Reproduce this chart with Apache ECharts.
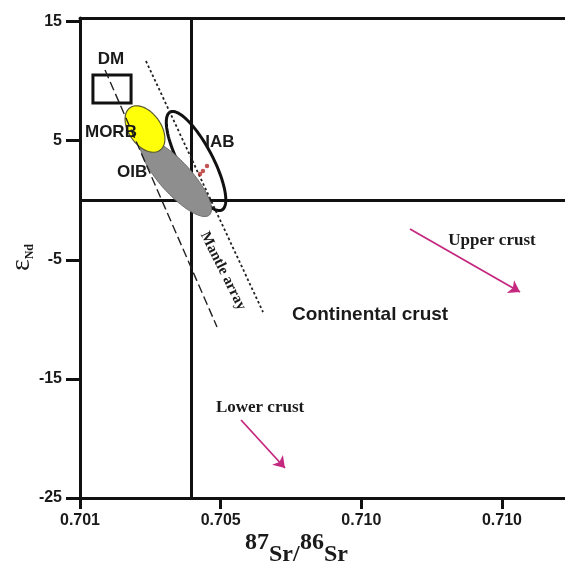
<!DOCTYPE html>
<html>
<head>
<meta charset="utf-8">
<script src="https://cdn.jsdelivr.net/npm/echarts@6/dist/echarts.min.js"></script>
<style>html,body{margin:0;padding:0;background:#fff}#c{width:565px;height:563px}</style>
</head>
<body>
<div id="c"></div>
<script>
// ---- data (x in tick-position units: 0 = first tick, 1 = second ...) ----
const xTickLabels = ['0.701', '0.705', '0.710', '0.710'];
const xTickPositions = [0, 1, 2, 3];
const yTicks = [-25, -15, -5, 5, 15];
const bulkEarthX = 0.789;
const bulkEarthY = 0;
const dmBox = [[0.092, 10.51], [0.363, 8.16]];
// ellipse: [centerX, centerY, majorTipX, majorTipY, minor/major ratio]
const iabField = [0.825, 3.29, 1.009, -0.82, 0.30];
const oibField = [0.682, 1.87, 0.920, -1.24, 0.32];
const morbField = [0.462, 5.98, 0.568, 4.19, 0.62];
const mantleArrayLeft = [[0.178, 10.93], [0.974, -10.64]];
const mantleArrayRight = [[0.469, 11.69], [1.301, -9.39]];
const samples = [[0.903, 2.87], [0.874, 2.45], [0.853, 2.20]];
const upperCrustArrow = [[2.346, -2.42], [3.128, -7.71]];
const lowerCrustArrow = [[1.145, -18.45], [1.457, -22.48]];
const labelTexts = ['DM', 'MORB', 'OIB', 'IAB', 'Continental crust', 'Upper crust', 'Lower crust', 'Mantle array'];
const labelX = [0.220, 0.220, 0.370, 0.995, 2.062, 2.929, 1.280, 1.017];
const labelY = [11.86, 5.73, 2.37, 4.85, -9.64, -3.42, -17.45, -5.94];

// ---- styles ----
const sansBold = {fontFamily: 'Liberation Sans, Arial, sans-serif', fontWeight: 'bold', fill: '#1a1a1a'};
const serifBold = {fontFamily: 'Liberation Serif, Times New Roman, serif', fontWeight: 'bold', fill: '#1a1a1a'};
const labelStyles = [
  Object.assign({fontSize: 17}, sansBold),
  Object.assign({fontSize: 17}, sansBold),
  Object.assign({fontSize: 17}, sansBold),
  Object.assign({fontSize: 17}, sansBold),
  Object.assign({fontSize: 19}, sansBold),
  Object.assign({fontSize: 17}, serifBold),
  Object.assign({fontSize: 17}, serifBold),
  Object.assign({fontSize: 15}, serifBold)
];
const labelRot = [0, 0, 0, 0, 0, 0, 0, -1.107];

function ellipseSeries(field, fill, stroke, lw, z) {
  return {
    type: 'custom', coordinateSystem: 'cartesian2d', z: z, silent: true,
    data: [[field[0], field[1]]],
    renderItem: function (params, api) {
      const c = api.coord([field[0], field[1]]);
      const t = api.coord([field[2], field[3]]);
      const a = Math.hypot(t[0] - c[0], t[1] - c[1]);
      const ang = Math.atan2(t[1] - c[1], t[0] - c[0]);
      const b = a * field[4];
      const pts = [];
      for (let i = 0; i < 120; i++) {
        const th = i / 120 * Math.PI * 2;
        const ex = a * Math.cos(th), ey = b * Math.sin(th);
        pts.push([c[0] + ex * Math.cos(ang) - ey * Math.sin(ang), c[1] + ex * Math.sin(ang) + ey * Math.cos(ang)]);
      }
      return {type: 'polygon', shape: {points: pts}, style: {fill: fill, stroke: stroke, lineWidth: lw}};
    }
  };
}

function lineSeries(pts, color, width, dash, z) {
  return {
    type: 'line', data: pts, z: z, silent: true, animation: false, symbol: 'none',
    lineStyle: {color: color, width: width, type: dash || 'solid'}
  };
}

function arrowSeries(pts, color, z) {
  return {
    type: 'lines', coordinateSystem: 'cartesian2d', z: z, silent: true,
    symbol: ['none', 'arrow'], symbolSize: [0, 11],
    lineStyle: {color: color, width: 1.8, opacity: 1},
    data: [{coords: pts}]
  };
}

const chart = echarts.init(document.getElementById('c'), null, {renderer: 'canvas'});

const option = {
  animation: false,
  backgroundColor: '#fff',
  grid: {left: 80, right: 0, top: 18, bottom: 65, containLabel: false},
  xAxis: [{
    type: 'value', min: 0, max: 3.448, position: 'bottom',
    axisLine: {show: true, onZero: false, lineStyle: {color: '#111', width: 3}},
    axisTick: {show: true, customValues: xTickPositions, length: 11, lineStyle: {color: '#111', width: 3}},
    axisLabel: {customValues: xTickPositions, margin: 15, fontSize: 16, fontWeight: 'bold', color: '#1a1a1a',
      fontFamily: 'Liberation Sans, Arial, sans-serif',
      formatter: function (v) { return xTickLabels[Math.round(v)]; }},
    splitLine: {show: false}
  }, {
    type: 'value', min: 0, max: 3.448, position: 'top',
    axisLine: {show: true, onZero: false, lineStyle: {color: '#111', width: 3}},
    axisTick: {show: false}, axisLabel: {show: false}, splitLine: {show: false}
  }],
  yAxis: {
    type: 'value', min: -25, max: 15.3,
    axisLine: {show: true, onZero: false, lineStyle: {color: '#111', width: 3}},
    axisTick: {show: true, customValues: yTicks, length: 14, lineStyle: {color: '#111', width: 3}},
    axisLabel: {customValues: yTicks, margin: 18, fontSize: 16, fontWeight: 'bold', color: '#1a1a1a',
      fontFamily: 'Liberation Sans, Arial, sans-serif'},
    splitLine: {show: false}
  },
  graphic: [
    {type: 'text', left: 8, top: 244, rotation: Math.PI / 2, z: 10,
      style: {text: '{e|ε}{n|Nd}', rich: {
        e: {fontSize: 28, fontFamily: 'Liberation Serif, serif', fill: '#1a1a1a', lineHeight: 28, verticalAlign: 'middle'},
        n: {fontSize: 12, fontFamily: 'Liberation Serif, serif', fontWeight: 'bold', fill: '#1a1a1a', lineHeight: 12, verticalAlign: 'bottom'}
      }}},
    {type: 'text', x: 245, y: 543, z: 10, style: Object.assign({text: '87', fontSize: 24, verticalAlign: 'middle'}, serifBold)},
    {type: 'text', x: 269, y: 555, z: 10, style: Object.assign({text: 'Sr/', fontSize: 24, verticalAlign: 'middle'}, serifBold)},
    {type: 'text', x: 300, y: 543, z: 10, style: Object.assign({text: '86', fontSize: 24, verticalAlign: 'middle'}, serifBold)},
    {type: 'text', x: 324, y: 555, z: 10, style: Object.assign({text: 'Sr', fontSize: 24, verticalAlign: 'middle'}, serifBold)}
  ],
  series: [
    {type: 'line', data: [], z: 3, silent: true,
      markLine: {silent: true, symbol: 'none', label: {show: false}, lineStyle: {color: '#111', width: 3, type: 'solid'},
        data: [{xAxis: bulkEarthX}, {yAxis: bulkEarthY}]}},
    {type: 'custom', coordinateSystem: 'cartesian2d', z: 4, silent: true, data: [dmBox[0]],
      renderItem: function (params, api) {
        const p1 = api.coord(dmBox[0]);
        const p2 = api.coord(dmBox[1]);
        return {type: 'rect', shape: {x: p1[0], y: p1[1], width: p2[0] - p1[0], height: p2[1] - p1[1]},
          style: {fill: 'none', stroke: '#111', lineWidth: 3}};
      }},
    ellipseSeries(iabField, 'rgba(255,255,255,0)', '#111', 3, 5),
    ellipseSeries(oibField, '#8e8e8e', '#6e6e6e', 1, 6),
    ellipseSeries(morbField, '#ffff0a', '#5a5a30', 1.2, 7),
    lineSeries(mantleArrayLeft, '#222', 1.4, [9, 4], 8),
    lineSeries(mantleArrayRight, '#222', 1.8, [2.5, 2.5], 8),
    arrowSeries(upperCrustArrow, '#c4287f', 8),
    arrowSeries(lowerCrustArrow, '#c4287f', 8),
    {type: 'scatter', data: samples, z: 9, symbol: 'circle', symbolSize: 4.5, silent: true,
      itemStyle: {color: '#b52a2a'}},
    {type: 'custom', coordinateSystem: 'cartesian2d', z: 10, silent: true,
      data: labelX.map(function (x, i) { return [x, labelY[i], i]; }),
      renderItem: function (params, api) {
        const i = api.value(2);
        const p = api.coord([api.value(0), api.value(1)]);
        return {type: 'text', x: p[0], y: p[1], rotation: labelRot[i],
          style: Object.assign({text: labelTexts[i], align: 'center', verticalAlign: 'middle'}, labelStyles[i])};
      }}
  ]
};
chart.setOption(option);
</script>
</body>
</html>
